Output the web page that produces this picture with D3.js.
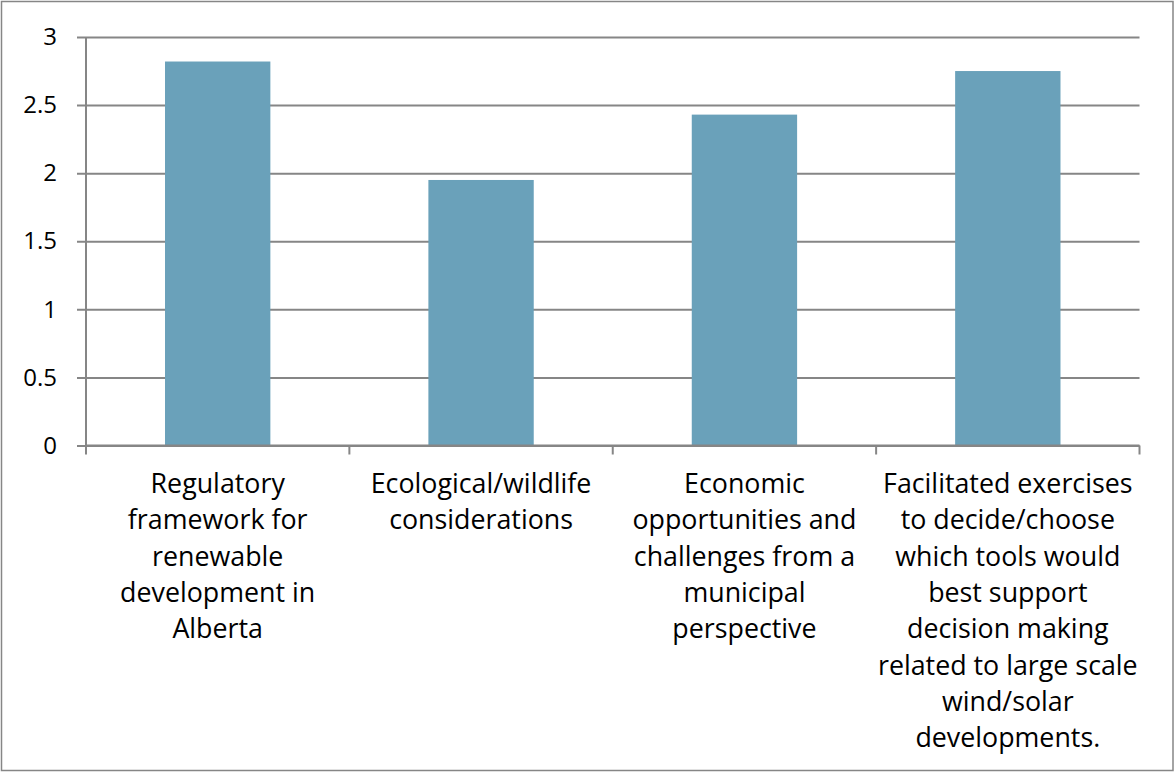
<!DOCTYPE html>
<html>
<head>
<meta charset="utf-8">
<script src="https://cdn.jsdelivr.net/npm/d3@7"></script>
<style>
  html, body { margin: 0; padding: 0; background: #fff; }
  svg { display: block; }
  text { font-family: "Open Sans", "Noto Sans", sans-serif; fill: #000; }
</style>
</head>
<body>
<svg id="chart" width="1175" height="773"></svg>
<script>
// Survey topics (each label split into its display lines) and mean scores
const categories = [
  "Regulatory framework for renewable development in Alberta",
  "Ecological/wildlife considerations",
  "Economic opportunities and challenges from a municipal perspective",
  "Facilitated exercises to decide/choose which tools would best support decision making related to large scale wind/solar developments."
];
const categoryLines = [
  ["Regulatory", "framework for", "renewable", "development in", "Alberta"],
  ["Ecological/wildlife", "considerations"],
  ["Economic", "opportunities and", "challenges from a", "municipal", "perspective"],
  ["Facilitated exercises", "to decide/choose", "which tools would", "best support", "decision making", "related to large scale", "wind/solar", "developments."]
];
const values = [2.82, 1.95, 2.43, 2.75];
const yTicks = [0, 0.5, 1, 1.5, 2, 2.5, 3];

const W = 1175, H = 773;
const plot = { left: 86, right: 1139.5, top: 37, bottom: 445.5 };

const svg = d3.select("#chart");

// outer frame
svg.append("rect")
  .attr("x", 1.5).attr("y", 1.5)
  .attr("width", W - 3.5).attr("height", H - 4)
  .attr("fill", "#fff").attr("stroke", "#868686").attr("stroke-width", 1.5);

const x = d3.scaleBand()
  .domain(categories)
  .range([plot.left, plot.right])
  .paddingInner(0).paddingOuter(0);

const y = d3.scaleLinear()
  .domain([0, 3])
  .range([plot.bottom, plot.top]);

// horizontal gridlines with tick labels
const yAxis = d3.axisLeft(y)
  .tickValues(yTicks)
  .tickSize(-(plot.right - plot.left))
  .tickPadding(20)
  .tickFormat(d3.format("~g"));

const gy = svg.append("g")
  .attr("transform", `translate(${plot.left},0)`)
  .call(yAxis);
gy.select(".domain").remove();
gy.selectAll(".tick line")
  .attr("x1", -9)
  .attr("stroke", "#868686").attr("stroke-width", 2);
gy.selectAll(".tick text")
  .attr("font-size", 24)
  .attr("fill", "#000")
  .attr("x", -29)
  .style("font-family", '"Open Sans", "Noto Sans", sans-serif');

// bars
const barFrac = 0.4;
svg.append("g").selectAll("rect")
  .data(categories)
  .join("rect")
  .attr("x", (d) => x(d) + x.bandwidth() * (1 - barFrac) / 2)
  .attr("width", x.bandwidth() * barFrac)
  .attr("y", (d, i) => y(values[i]))
  .attr("height", (d, i) => y(0) - y(values[i]))
  .attr("fill", "#6aa1ba");

// vertical axis line
svg.append("line")
  .attr("x1", plot.left).attr("x2", plot.left)
  .attr("y1", plot.top).attr("y2", plot.bottom)
  .attr("stroke", "#868686").attr("stroke-width", 2);

// baseline and category boundary ticks
svg.append("line")
  .attr("x1", plot.left).attr("x2", plot.right)
  .attr("y1", plot.bottom).attr("y2", plot.bottom)
  .attr("stroke", "#868686").attr("stroke-width", 2);

const boundaries = categories.map((d) => x(d)).concat([plot.right]);
svg.append("g").selectAll("line")
  .data(boundaries)
  .join("line")
  .attr("x1", (d) => d).attr("x2", (d) => d)
  .attr("y1", plot.bottom).attr("y2", plot.bottom + 9)
  .attr("stroke", "#868686").attr("stroke-width", 2);

// category labels
const lineH = 36.3;
const labels = svg.append("g").selectAll("text")
  .data(categories)
  .join("text")
  .attr("text-anchor", "middle")
  .attr("font-size", 26.8)
  .attr("x", (d) => x(d) + x.bandwidth() / 2)
  .attr("y", 493);

labels.selectAll("tspan")
  .data((d, i) => categoryLines[i])
  .join("tspan")
  .attr("x", function () { return this.parentNode.getAttribute("x"); })
  .attr("y", (d, j) => 493 + j * lineH)
  .text((d) => d);
</script>
</body>
</html>
